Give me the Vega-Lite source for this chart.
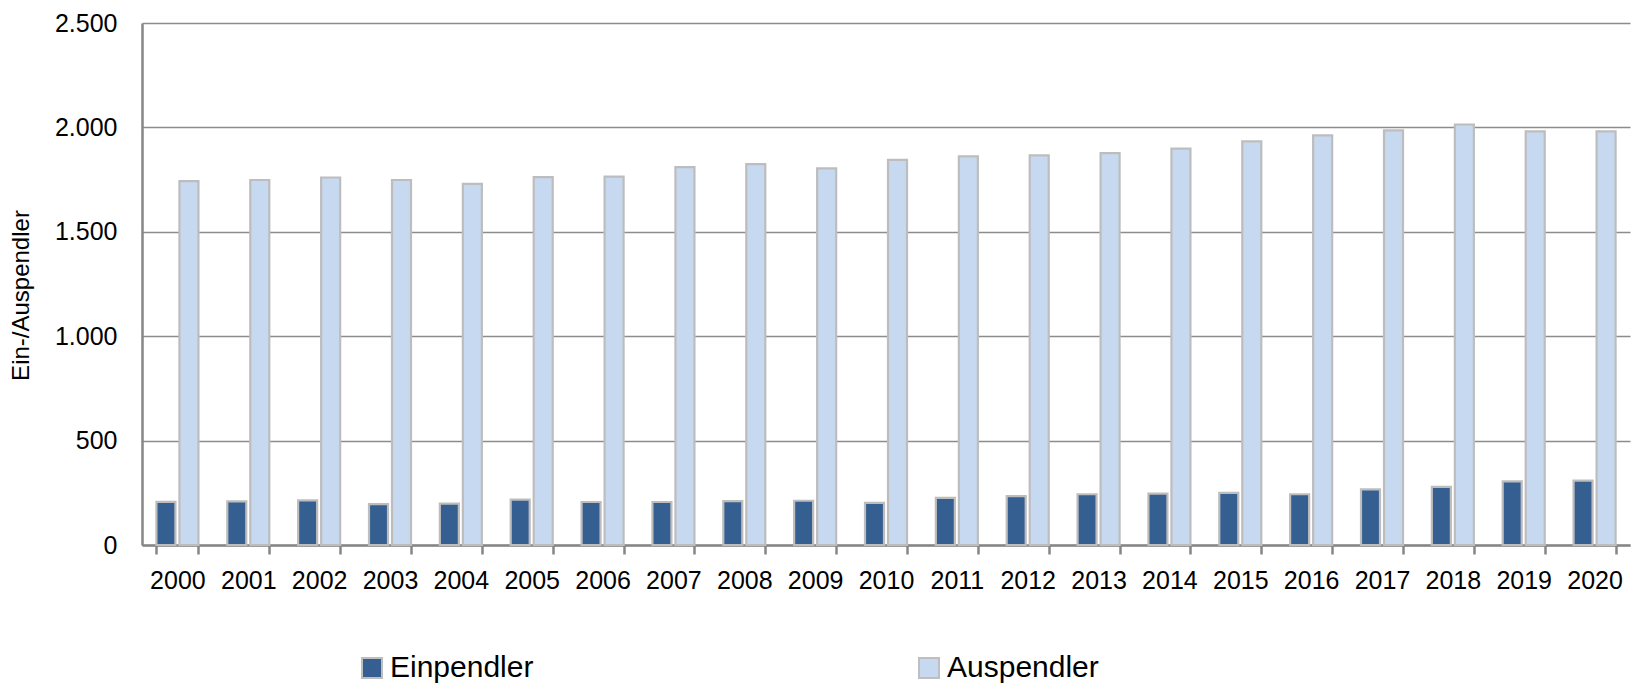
{
  "$schema": "https://vega.github.io/schema/vega-lite/v6.json",
  "width": 1488,
  "height": 522,
  "autosize": {"type": "none"},
  "padding": {"left": 142, "top": 23, "right": 1, "bottom": 145},
  "background": "white",
  "config": {
    "view": {"stroke": null},
    "font": "Liberation Sans"
  },
  "data": {
    "values": [
      {"jahr": "2000", "typ": "Einpendler", "wert": 207}, {"jahr": "2000", "typ": "Auspendler", "wert": 1743},
      {"jahr": "2001", "typ": "Einpendler", "wert": 209}, {"jahr": "2001", "typ": "Auspendler", "wert": 1748},
      {"jahr": "2002", "typ": "Einpendler", "wert": 214}, {"jahr": "2002", "typ": "Auspendler", "wert": 1760},
      {"jahr": "2003", "typ": "Einpendler", "wert": 196}, {"jahr": "2003", "typ": "Auspendler", "wert": 1748},
      {"jahr": "2004", "typ": "Einpendler", "wert": 198}, {"jahr": "2004", "typ": "Auspendler", "wert": 1730},
      {"jahr": "2005", "typ": "Einpendler", "wert": 217}, {"jahr": "2005", "typ": "Auspendler", "wert": 1762},
      {"jahr": "2006", "typ": "Einpendler", "wert": 206}, {"jahr": "2006", "typ": "Auspendler", "wert": 1764},
      {"jahr": "2007", "typ": "Einpendler", "wert": 206}, {"jahr": "2007", "typ": "Auspendler", "wert": 1810},
      {"jahr": "2008", "typ": "Einpendler", "wert": 210}, {"jahr": "2008", "typ": "Auspendler", "wert": 1824},
      {"jahr": "2009", "typ": "Einpendler", "wert": 212}, {"jahr": "2009", "typ": "Auspendler", "wert": 1804},
      {"jahr": "2010", "typ": "Einpendler", "wert": 202}, {"jahr": "2010", "typ": "Auspendler", "wert": 1844},
      {"jahr": "2011", "typ": "Einpendler", "wert": 226}, {"jahr": "2011", "typ": "Auspendler", "wert": 1861},
      {"jahr": "2012", "typ": "Einpendler", "wert": 234}, {"jahr": "2012", "typ": "Auspendler", "wert": 1866},
      {"jahr": "2013", "typ": "Einpendler", "wert": 243}, {"jahr": "2013", "typ": "Auspendler", "wert": 1877},
      {"jahr": "2014", "typ": "Einpendler", "wert": 246}, {"jahr": "2014", "typ": "Auspendler", "wert": 1898},
      {"jahr": "2015", "typ": "Einpendler", "wert": 250}, {"jahr": "2015", "typ": "Auspendler", "wert": 1933},
      {"jahr": "2016", "typ": "Einpendler", "wert": 243}, {"jahr": "2016", "typ": "Auspendler", "wert": 1962},
      {"jahr": "2017", "typ": "Einpendler", "wert": 266}, {"jahr": "2017", "typ": "Auspendler", "wert": 1986},
      {"jahr": "2018", "typ": "Einpendler", "wert": 278}, {"jahr": "2018", "typ": "Auspendler", "wert": 2014},
      {"jahr": "2019", "typ": "Einpendler", "wert": 305}, {"jahr": "2019", "typ": "Auspendler", "wert": 1981},
      {"jahr": "2020", "typ": "Einpendler", "wert": 308}, {"jahr": "2020", "typ": "Auspendler", "wert": 1981}
    ]
  },
  "mark": {"type": "bar", "stroke": "#BDBDBD", "strokeWidth": 2.2},
  "encoding": {
    "x": {
      "field": "jahr", "type": "nominal",
      "scale": {"paddingInner": 0.407, "paddingOuter": 0.2035},
      "axis": {
        "title": null, "labelAngle": 0, "grid": false,
        "tickBand": "extent", "tickSize": 9, "tickColor": "#868686", "tickWidth": 2.5,
        "domainColor": "#868686", "domainWidth": 2.5,
        "labelFontSize": 25, "labelColor": "#000000", "labelPadding": 14
      }
    },
    "xOffset": {
      "field": "typ", "type": "nominal",
      "sort": ["Einpendler", "Auspendler"],
      "scale": {"paddingInner": 0.174, "paddingOuter": 0}
    },
    "y": {
      "field": "wert", "type": "quantitative",
      "scale": {"domain": [0, 2500], "nice": false},
      "axis": {
        "title": "Ein-/Auspendler", "titleFontSize": 24, "titleFontWeight": "normal", "titleColor": "#000000",
        "titleX": -109, "titleY": 272,
        "values": [0, 500, 1000, 1500, 2000, 2500],
        "labelExpr": "replace(format(datum.value, ','), ',', '.')",
        "ticks": false, "tickSize": 0, "labelPadding": 25,
        "labelFontSize": 25, "labelColor": "#000000",
        "domainColor": "#868686", "domainWidth": 2.5,
        "gridColor": "#8C8C8C", "gridWidth": 1.5
      }
    },
    "color": {
      "field": "typ", "type": "nominal",
      "scale": {"domain": ["Einpendler", "Auspendler"], "range": ["#355F91", "#C6D9F0"]},
      "legend": {
        "title": null, "orient": "none", "direction": "horizontal", "columns": 2,
        "legendX": 215, "legendY": 630,
        "symbolType": "square", "symbolSize": 400, "symbolStrokeColor": "#BFBFBF", "symbolStrokeWidth": 2,
        "symbolOpacity": 1,
        "labelFontSize": 30, "labelColor": "#000000", "labelOffset": 3, "labelLimit": 400,
        "columnPadding": 380
      }
    }
  }
}
